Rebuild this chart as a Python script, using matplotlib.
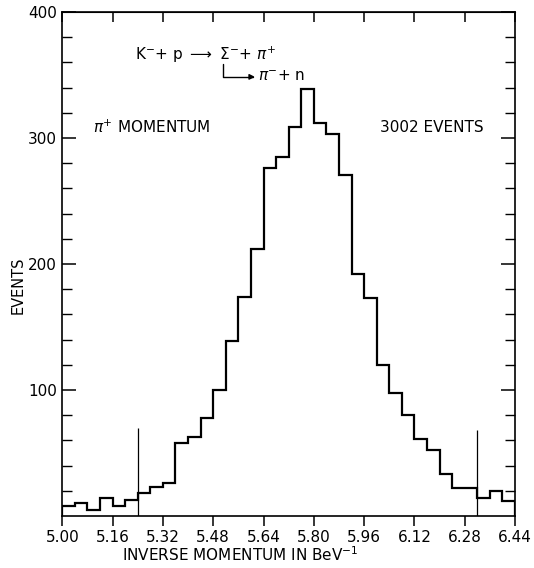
import numpy as np
import matplotlib
matplotlib.use("Agg")
import matplotlib.pyplot as plt

# --- data (bins of 0.04 BeV^-1) ---
x_start = 5.00
x_end = 6.44
counts = [8, 10, 5, 14, 8, 13, 18, 23, 26, 58, 63, 78,
          100, 139, 174, 212, 276, 285, 309, 339, 312, 303, 271, 192,
          173, 120, 98, 80, 61, 52, 33, 22, 22, 14, 20, 12]
cut_positions = [5.24, 6.32]
cut_heights = [70, 68]
xtick_values = [5.00, 5.16, 5.32, 5.48, 5.64, 5.80, 5.96, 6.12, 6.28, 6.44]
xtick_labels = ["5.00", "5.16", "5.32", "5.48", "5.64", "5.80", "5.96", "6.12", "6.28", "6.44"]
ytick_values = [100, 200, 300, 400]

plt.rcParams['font.family'] = ['DejaVu Sans']
plt.rcParams['mathtext.fontset'] = 'dejavusans'

fig = plt.figure(figsize=(5.34, 5.68), dpi=100)
ax = fig.add_axes([62.3 / 534, 52 / 568, (515 - 62.3) / 534, (516 - 12) / 568])

edges = np.linspace(x_start, x_end, len(counts) + 1)
ax.stairs(counts, edges, color='black', linewidth=1.6)
ax.vlines(cut_positions, 0, cut_heights, color='black', linewidth=0.9)

ax.set_xlim(x_start, x_end)
ax.set_ylim(0, 400)

# axes / ticks
for s in ax.spines.values():
    s.set_linewidth(1.2)
ax.set_xticks(xtick_values)
ax.set_xticklabels(xtick_labels, fontsize=11)
ax.tick_params(axis='x', direction='out', length=7, width=1.1, pad=3)
ax.set_yticks(ytick_values)
ax.set_yticks(np.arange(20, 400, 20), minor=True)
ax.tick_params(axis='y', which='major', direction='in', length=10, width=1.1,
               left=True, right=True, labelsize=11, pad=4)
ax.tick_params(axis='y', which='minor', direction='in', length=7, width=1.0,
               left=True, right=True)

top = ax.secondary_xaxis('top')
top.set_xticks(xtick_values)
top.tick_params(direction='in', length=7, width=1.1, labeltop=False)

fig.text(240 / 534, 1 - 555 / 568, "INVERSE MOMENTUM IN BeV$^{-1}$",
         ha='center', va='center', fontsize=11)
fig.text(18 / 534, 1 - 285 / 568, "EVENTS", rotation=90,
         ha='center', va='center', fontsize=10.5)

# annotations
ax.text(5.231, 366, r"K$^{-}$+ p $\longrightarrow$ $\Sigma^{-}$+ $\pi^{+}$",
        fontsize=11, ha='left', va='center')
ax.annotate("", xy=(5.613, 348.5), xytext=(5.511, 359),
            arrowprops=dict(arrowstyle='-|>', color='black', lw=1.0,
                            shrinkA=0, shrinkB=0, mutation_scale=8,
                            connectionstyle='angle,angleA=90,angleB=0,rad=0'))
ax.text(5.622, 349, r"$\pi^{-}$+ n", fontsize=11, ha='left', va='center')
ax.text(5.098, 308.7, r"$\pi^{+}$ MOMENTUM", fontsize=11, ha='left', va='center')
ax.text(6.010, 308.7, "3002 EVENTS", fontsize=11, ha='left', va='center')

fig.savefig("out.png", dpi=100)
